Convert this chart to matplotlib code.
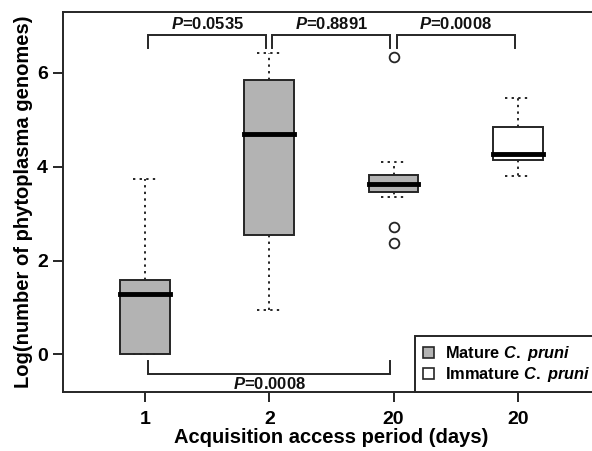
import matplotlib
matplotlib.use("Agg")
import matplotlib.pyplot as plt
from matplotlib.patches import Patch

plt.rcParams['font.family'] = ['Liberation Sans', 'DejaVu Sans']
plt.rcParams['font.weight'] = 'bold'
plt.rcParams['mathtext.fontset'] = 'custom'
plt.rcParams['mathtext.it'] = 'Liberation Sans:italic:bold'
plt.rcParams['mathtext.rm'] = 'Liberation Sans:bold'

# values (log genomes)
labels = ['1', '2', '20', '20']
q1 = [0.00, 2.54, 3.46, 4.15]
med = [1.28, 4.70, 3.63, 4.27]
q3 = [1.58, 5.85, 3.82, 4.85]
whis_lo = [0.00, 0.94, 3.36, 3.80]
whis_hi = [3.74, 6.43, 4.10, 5.47]
outliers = [[], [], [6.34, 2.71, 2.37], []]
fills = ['#b3b3b3', '#b3b3b3', '#b3b3b3', 'white']

# comparisons: (from, to, p)
top_pairs = [(1, 2, '0.0535'), (2, 3, '0.8891'), (3, 4, '0.0008')]
bottom_pair = (1, 3, '0.0008')

edge = '#262626'

fig = plt.figure(figsize=(5.92, 4.51), dpi=100)
ax = fig.add_axes([0.1064, 0.1308, 0.907, 0.8426])

stats = []
for i in range(4):
    stats.append(dict(med=med[i], q1=q1[i], q3=q3[i], whislo=whis_lo[i],
                      whishi=whis_hi[i], fliers=outliers[i]))

bp = ax.bxp(stats, positions=[1, 2, 3, 4], widths=0.4, patch_artist=True,
            showfliers=True, capwidths=0.2,
            boxprops=dict(edgecolor=edge, linewidth=1.4),
            medianprops=dict(color='black', linewidth=3.5, solid_capstyle='projecting'),
            whiskerprops=dict(color=edge, linestyle=(0, (1.2, 2.2)), linewidth=1.4),
            capprops=dict(color=edge, linestyle=(0, (1.2, 2.2)), linewidth=1.4),
            flierprops=dict(marker='o', markerfacecolor='none', markeredgecolor=edge,
                            markersize=7, markeredgewidth=1.3))
for patch, c in zip(bp['boxes'], fills):
    patch.set_facecolor(c)

# brackets on top
for a, b, p in top_pairs:
    xa, xb = a + 0.025, b - 0.025
    ax.plot([xa, xa, xb, xb], [6.54, 6.82, 6.82, 6.54], color=edge, lw=1.4,
            solid_joinstyle='miter')
    ax.text((a + b) / 2, 6.87, '$P$=' + p, ha='center', va='bottom', fontsize=12,
            fontweight='bold', color='#111111')

# bracket at the bottom
a, b, p = bottom_pair
ax.plot([a + 0.025, a + 0.025, b - 0.025, b - 0.025], [-0.13, -0.41, -0.41, -0.13],
        color=edge, lw=1.4, solid_joinstyle='miter')
ax.text((a + b) / 2, -0.62, '$P$=' + p, ha='center', va='center', fontsize=12,
        fontweight='bold', color='#111111')

ax.set_xlim(0.34, 4.66)
ax.set_ylim(-0.8, 7.3)
ax.set_yticks([0, 2, 4, 6])
ax.set_xticks([1, 2, 3, 4])
ax.set_xticklabels(labels)
ax.tick_params(axis='both', length=7.5, width=1.4, color=edge, labelsize=14)
ax.tick_params(axis='x', pad=6)
ax.tick_params(axis='y', pad=3.5)
for s in ax.spines.values():
    s.set_color(edge)
    s.set_linewidth(1.4)

ax.set_xlabel('Acquisition access period (days)', fontsize=14.5, fontweight='bold', labelpad=0)
ax.set_ylabel('Log(number of phytoplasma genomes)', fontsize=14.5, fontweight='bold', labelpad=3)

handles = [Patch(facecolor='#b3b3b3', edgecolor=edge, linewidth=1.2),
           Patch(facecolor='white', edgecolor=edge, linewidth=1.2)]
leg = ax.legend(handles, [r'Mature $C.$ $pruni$', r'Immature $C.$ $pruni$'],
                loc='lower left', bbox_to_anchor=(0.6555, 0.0), borderaxespad=0,
                fancybox=False, edgecolor=edge, fontsize=11.8, handlelength=0.65,
                handleheight=0.65, handletextpad=0.7, labelspacing=0.1,
                borderpad=0.5, framealpha=1)
leg.get_frame().set_linewidth(1.4)

fig.savefig('out.png', dpi=100)
